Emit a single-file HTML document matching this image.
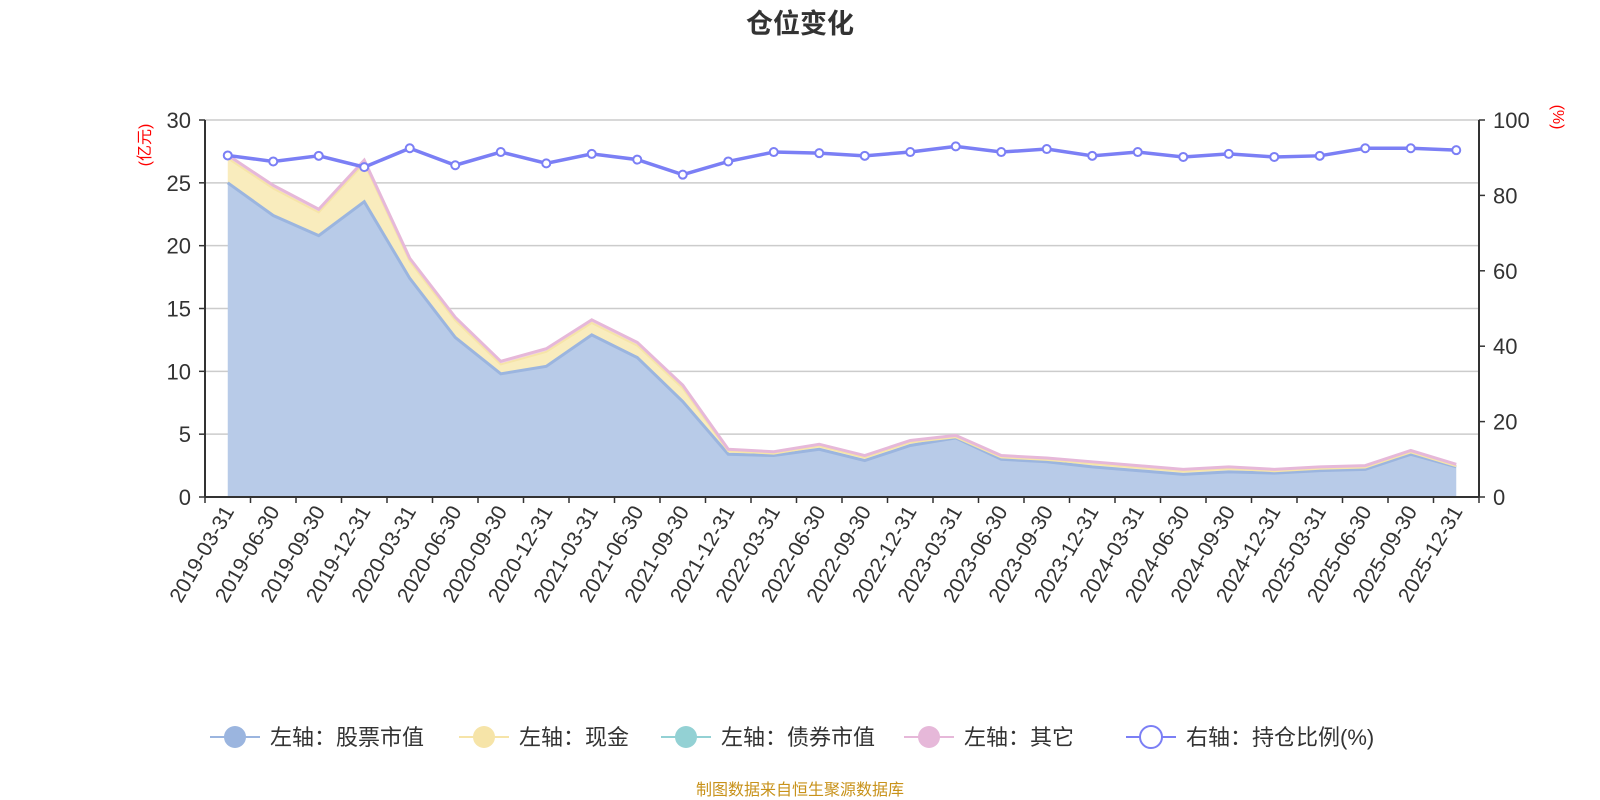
<!DOCTYPE html><html><head><meta charset="utf-8"><style>body{margin:0;background:#fff}svg{display:block;font-family:"Liberation Sans","Noto Sans CJK SC",sans-serif}</style></head><body>
<svg id="s" width="1600" height="800" xmlns="http://www.w3.org/2000/svg"></svg>
<script>
const L=205,R=1479,T=120,B=497,N=28;
const bw=(R-L)/N;
const X=i=>L+bw*(i+0.5);
const YL=v=>B-(v/30)*(B-T);
const YR=v=>B-(v/100)*(B-T);
const stock=[25,22.4,20.8,23.5,17.4,12.7,9.8,10.4,12.9,11.1,7.6,3.4,3.3,3.8,2.9,4.1,4.7,3.0,2.8,2.4,2.1,1.8,2.0,1.9,2.1,2.2,3.4,2.4];
const total=[27.2,24.8,22.9,26.8,19,14.3,10.8,11.8,14.1,12.3,8.9,3.8,3.6,4.2,3.3,4.5,4.9,3.3,3.1,2.8,2.5,2.2,2.4,2.2,2.4,2.5,3.7,2.6];
const cash=total.map((t,i)=>Math.max(stock[i],t-(t>5?0.25:0.15)));
const pct=[90.6,89,90.5,87.5,92.5,88,91.5,88.5,91,89.5,85.5,89,91.5,91.2,90.5,91.5,93,91.5,92.3,90.5,91.5,90.2,91,90.2,90.5,92.5,92.5,92];
const labels=[];for(let y=2019;y<=2025;y++)for(const d of['03-31','06-30','09-30','12-31'])labels.push(y+'-'+d);
let h='';
h+=`<text x="800" y="33" text-anchor="middle" font-size="27" font-weight="bold" fill="#333">仓位变化</text>`;
for(let k=0;k<=6;k++){const y=YL(k*5);
 if(k>0)h+=`<line x1="${L}" x2="${R}" y1="${y}" y2="${y}" stroke="#ccc" stroke-width="1.5"/>`;
 h+=`<line x1="${L-6}" x2="${L}" y1="${y}" y2="${y}" stroke="#333" stroke-width="1.5"/>`;
 h+=`<text x="${L-14}" y="${y+8}" text-anchor="end" font-size="22" fill="#333">${k*5}</text>`;}
for(let k=0;k<=5;k++){const y=YR(k*20);
 h+=`<line x1="${R}" x2="${R+6}" y1="${y}" y2="${y}" stroke="#333" stroke-width="1.5"/>`;
 h+=`<text x="${R+14}" y="${y+8}" font-size="22" fill="#333">${k*20}</text>`;}
h+=`<text transform="translate(150,145) rotate(-90)" text-anchor="middle" font-size="16" fill="red">(亿元)</text>`;
h+=`<text transform="translate(1553,117) rotate(90)" text-anchor="middle" font-size="16" fill="red">(%)</text>`;
const pts=a=>a.map((v,i)=>X(i)+','+YL(v));
const area=(top,bot)=>'M'+pts(top).join('L')+'L'+pts(bot).reverse().join('L')+'Z';
const zero=stock.map(()=>0);
h+=`<path d="${area(total,cash)}" fill="#ebc0de" opacity="0.7"/>`;
h+=`<path d="${area(cash,stock)}" fill="#f9ecbd"/>`;
h+=`<path d="${area(stock,zero)}" fill="#b8cbe8"/>`;
h+=`<polyline points="${pts(stock).join(' ')}" fill="none" stroke="#9bb5df" stroke-width="3"/>`;
h+=`<polyline points="${pts(cash).join(' ')}" fill="none" stroke="#f6e4a8" stroke-width="2"/>`;
h+=`<polyline points="${pts(total).join(' ')}" fill="none" stroke="#e6b8d9" stroke-width="3"/>`;
h+=`<line x1="${L}" x2="${L}" y1="${T}" y2="${B}" stroke="#333" stroke-width="2"/>`;
h+=`<line x1="${R}" x2="${R}" y1="${T}" y2="${B}" stroke="#333" stroke-width="2"/>`;
h+=`<line x1="${L}" x2="${R}" y1="${B}" y2="${B}" stroke="#333" stroke-width="2"/>`;
for(let i=0;i<=N;i++){const x=L+bw*i;h+=`<line x1="${x}" x2="${x}" y1="${B}" y2="${B+6}" stroke="#333" stroke-width="1.5"/>`;}
labels.forEach((l,i)=>{const x=X(i)+7,y=B+14;h+=`<text transform="translate(${x},${y}) rotate(-60)" text-anchor="end" font-size="21" fill="#333">${l}</text>`;});
const pp=pct.map((v,i)=>X(i)+','+YR(v));
h+=`<polyline points="${pp.join(' ')}" fill="none" stroke="#7b7ff5" stroke-width="3.5"/>`;
pct.forEach((v,i)=>{h+=`<circle cx="${X(i)}" cy="${YR(v)}" r="4" fill="#fff" stroke="#7b7ff5" stroke-width="2"/>`;});
const lg=[['左轴：股票市值','#9bb5df',1],['左轴：现金','#f6e4a8',1],['左轴：债券市值','#93d1d4',1],['左轴：其它','#e6b8d9',1],['右轴：持仓比例(%)','#7b7ff5',0]];
const lx=[210,459,661,904,1126];const ly=737;
lg.forEach((g,i)=>{const x=lx[i];
 h+=`<line x1="${x}" x2="${x+50}" y1="${ly}" y2="${ly}" stroke="${g[1]}" stroke-width="2"/>`;
 if(g[2])h+=`<circle cx="${x+25}" cy="${ly}" r="11" fill="${g[1]}"/>`;else h+=`<circle cx="${x+25}" cy="${ly}" r="11" fill="#fff" stroke="${g[1]}" stroke-width="2"/>`;
 h+=`<text x="${x+60}" y="${ly+8}" font-size="22" fill="#333">${g[0]}</text>`;});
h+=`<text x="800" y="795" text-anchor="middle" font-size="16" fill="#c8921a">制图数据来自恒生聚源数据库</text>`;
document.getElementById('s').innerHTML=h;
</script></body></html>
